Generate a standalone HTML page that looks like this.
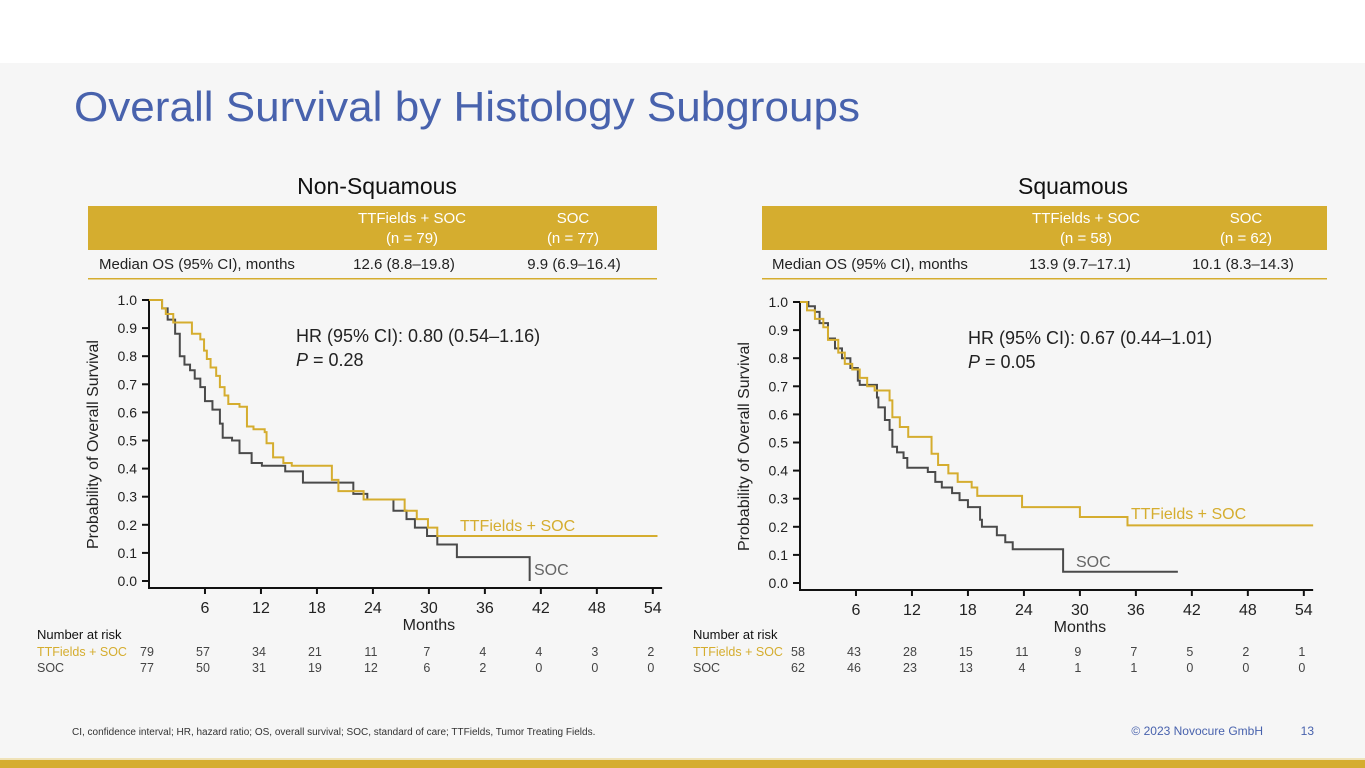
<!DOCTYPE html>
<html><head><meta charset="utf-8"><style>
html,body{margin:0;padding:0;width:1365px;height:768px;overflow:hidden;background:#fff}
svg{display:block;font-family:"Liberation Sans",sans-serif}
</style></head><body>
<svg id="page" width="1365" height="768" viewBox="0 0 1365 768" xmlns="http://www.w3.org/2000/svg">
<rect x="0" y="0" width="1365" height="63" fill="#ffffff"/>
<rect x="0" y="63" width="1365" height="697" fill="#f6f6f6"/>
<rect x="0" y="758" width="1365" height="2" fill="#efe2b8"/>
<rect x="0" y="760" width="1365" height="8" fill="#d5ad2f"/>
<text x="74" y="121" font-size="42" fill="#4862ad" font-weight="300" textLength="786" lengthAdjust="spacingAndGlyphs">Overall Survival by Histology Subgroups</text>

<text x="377" y="194" font-size="23" text-anchor="middle" fill="#111">Non-Squamous</text>
<text x="1073" y="194" font-size="23" text-anchor="middle" fill="#111">Squamous</text>

<g>
<rect x="88" y="206" width="569" height="44" fill="#d5ad2f"/>
<text x="412" y="223" font-size="15" text-anchor="middle" fill="#fff">TTFields + SOC</text>
<text x="412" y="243" font-size="15" text-anchor="middle" fill="#fff">(n = 79)</text>
<text x="573" y="223" font-size="15" text-anchor="middle" fill="#fff">SOC</text>
<text x="573" y="243" font-size="15" text-anchor="middle" fill="#fff">(n = 77)</text>
<text x="99" y="269" font-size="15" fill="#222">Median OS (95% CI), months</text>
<text x="404" y="269" font-size="15" text-anchor="middle" fill="#222">12.6 (8.8–19.8)</text>
<text x="574" y="269" font-size="15" text-anchor="middle" fill="#222">9.9 (6.9–16.4)</text>
<rect x="88" y="278" width="569" height="1.5" fill="#d5ad2f"/>
</g>
<g>
<rect x="762" y="206" width="565" height="44" fill="#d5ad2f"/>
<text x="1086" y="223" font-size="15" text-anchor="middle" fill="#fff">TTFields + SOC</text>
<text x="1086" y="243" font-size="15" text-anchor="middle" fill="#fff">(n = 58)</text>
<text x="1246" y="223" font-size="15" text-anchor="middle" fill="#fff">SOC</text>
<text x="1246" y="243" font-size="15" text-anchor="middle" fill="#fff">(n = 62)</text>
<text x="772" y="269" font-size="15" text-anchor="start" fill="#222">Median OS (95% CI), months</text>
<text x="1080" y="269" font-size="15" text-anchor="middle" fill="#222">13.9 (9.7–17.1)</text>
<text x="1243" y="269" font-size="15" text-anchor="middle" fill="#222">10.1 (8.3–14.3)</text>
<rect x="762" y="278" width="565" height="1.5" fill="#d5ad2f"/>
</g>

<g id="chartL"></g>
<g id="chartR"></g>

<text x="72" y="735" font-size="10" fill="#333">CI, confidence interval; HR, hazard ratio; OS, overall survival; SOC, standard of care; TTFields, Tumor Treating Fields.</text>
<text x="1263" y="735" font-size="12" text-anchor="end" fill="#4862ad">© 2023 Novocure GmbH</text>
<text x="1314" y="735" font-size="12" text-anchor="end" fill="#4862ad">13</text>
</svg>
<script>
const yTicks = ["0.0","0.1","0.2","0.3","0.4","0.5","0.6","0.7","0.8","0.9","1.0"];
const xTicks = [6,12,18,24,30,36,42,48,54];
const riskMonths = [0,6,12,18,24,30,36,42,48,54];
// Non-squamous
const nsTTFtime = [0,1.4,1.8,2.6,4.6,5.5,5.9,6.2,6.6,7.2,7.6,8.1,8.5,9.7,10.5,11.2,12.4,12.6,13.3,14.4,15.3,19.4,19.6,20.3,21.9,23,27.4,28.7,29.9,30.9,54.5];
const nsTTFsurv = [1,0.97,0.95,0.92,0.88,0.86,0.82,0.79,0.76,0.73,0.69,0.66,0.63,0.62,0.55,0.54,0.53,0.49,0.44,0.42,0.41,0.41,0.36,0.32,0.32,0.29,0.25,0.22,0.19,0.16,0.16];
const nsSOCtime = [0,1.4,2,2.8,3.3,3.8,4.4,4.9,5.5,6,6.8,7.6,7.9,8.9,9.7,11,12.1,14.6,16.5,21.9,23.4,26.2,27.6,28.5,29.8,30.9,33,40.8];
const nsSOCsurv = [1,0.97,0.93,0.88,0.80,0.77,0.75,0.72,0.69,0.64,0.61,0.56,0.51,0.50,0.455,0.42,0.41,0.39,0.35,0.31,0.29,0.25,0.22,0.19,0.16,0.13,0.085,0.0];
const nsRiskTTF = [79,57,34,21,11,7,4,4,3,2];
const nsRiskSOC = [77,50,31,19,12,6,2,0,0,0];
// Squamous
const sqTTFtime = [0,0.75,1.6,2.5,3,4.1,4.8,5.6,6.4,7.2,8,9.6,9.9,10.7,11.6,14.1,14.8,15.9,16.9,18.4,19,23.8,30,35.1,55];
const sqTTFsurv = [1,0.97,0.94,0.91,0.865,0.82,0.78,0.76,0.73,0.70,0.685,0.65,0.59,0.555,0.52,0.46,0.42,0.39,0.36,0.34,0.31,0.27,0.235,0.205,0.205];
const sqSOCtime = [0,0.9,1.6,2.1,3,3.75,4.5,5.4,6.2,6.4,8.25,8.4,9.1,9.6,9.9,10.4,11.1,11.5,13.7,14.5,15.2,16.3,17.1,18,19.3,19.5,21.1,22,22.8,28.2,40.5];
const sqSOCsurv = [1,0.985,0.965,0.925,0.87,0.835,0.80,0.765,0.72,0.705,0.66,0.625,0.58,0.545,0.485,0.465,0.445,0.41,0.395,0.36,0.34,0.32,0.295,0.27,0.225,0.20,0.17,0.145,0.12,0.04,0.04];
const sqRiskTTF = [58,43,28,15,11,9,7,5,2,1];
const sqRiskSOC = [62,46,23,13,4,1,1,0,0,0];

const NS = "http://www.w3.org/2000/svg";
const GOLD = "#d5ad2f", GREY = "#4a4a4a";
function mk(tag, attrs, parent, txt){
  const e = document.createElementNS(NS, tag);
  for (const k in attrs) e.setAttribute(k, attrs[k]);
  if (txt !== undefined) e.textContent = txt;
  parent.appendChild(e); return e;
}
function stepPath(t, s, X, Y){
  let d = "M" + X(t[0]) + " " + Y(s[0]);
  for (let i = 1; i < t.length; i++){
    d += " H" + X(t[i]) + " V" + Y(s[i]);
  }
  return d;
}
function drawChart(g, o){
  const X = m => o.x0 + m * 9.33;
  const Y = v => o.y0 - v * 281;
  const axisB = o.y0 + 7;
  const ya = mk("line",{x1:o.x0,y1:Y(1)-1,x2:o.x0,y2:axisB,stroke:"#111","stroke-width":2},g);
  
  
  const xa = mk("line",{x1:o.x0-1,y1:axisB,x2:X(55),y2:axisB,stroke:"#111","stroke-width":2},g);
  
  
  yTicks.forEach((lab,i)=>{
    const v = i/10;
    const tk = mk("line",{x1:o.x0-7,y1:Y(v),x2:o.x0,y2:Y(v),stroke:"#111","stroke-width":2},g);
    
    
    const tl = mk("text",{x:o.x0-12,y:Y(v)+5,"font-size":14,"text-anchor":"end",fill:"#222"},g,lab);
    
    
  });
  xTicks.forEach(m=>{
    const tk = mk("line",{x1:X(m),y1:axisB,x2:X(m),y2:axisB+6,stroke:"#111","stroke-width":2},g);
    
    
    const tl = mk("text",{x:X(m),y:axisB+25,"font-size":16,"text-anchor":"middle",fill:"#222"},g,String(m));
    
    
  });
  const xt = mk("text",{x:X(30),y:axisB+42,"font-size":16,"text-anchor":"middle",fill:"#222"},g,"Months");
  
  
  const yt = mk("text",{x:0,y:0,"font-size":16,"text-anchor":"middle",fill:"#222",transform:"translate("+(o.x0-51)+","+(Y(0.5)+4)+") rotate(-90)"},g,"Probability of Overall Survival");
  
  
  const pS = mk("path",{d:stepPath(o.socT,o.socS,X,Y),fill:"none",stroke:GREY,"stroke-width":2},g);
  
  
  const pT = mk("path",{d:stepPath(o.ttfT,o.ttfS,X,Y),fill:"none",stroke:GOLD,"stroke-width":2},g);
  
  
  const hr = mk("text",{x:o.hrX,y:Y(0.85),"font-size":18,fill:"#222"},g,o.hr);
  
  
  const pv = mk("text",{x:o.hrX,y:Y(0.85)+24,"font-size":18,fill:"#222"},g);
  
  
  mk("tspan",{"font-style":"italic"},pv,"P");
  mk("tspan",{},pv," = "+o.p);
  const l1 = mk("text",{x:o.ttfLab[0],y:o.ttfLab[1],"font-size":16,fill:GOLD},g,"TTFields + SOC");
  
  
  const l2 = mk("text",{x:o.socLab[0],y:o.socLab[1],"font-size":16,fill:"#666"},g,"SOC");
  
  
  const rt = mk("text",{x:o.riskX,y:639,"font-size":13,fill:"#111"},g,"Number at risk");
  
  
  const r1 = mk("text",{x:o.riskX,y:656,"font-size":12.5,fill:GOLD},g,"TTFields + SOC");
  
  
  const r2 = mk("text",{x:o.riskX,y:672,"font-size":12.5,fill:"#444"},g,"SOC");
  
  
  riskMonths.forEach((m,i)=>{
    const a = mk("text",{x:X(m)-2,y:656,"font-size":12.5,"text-anchor":"middle",fill:"#444"},g,String(o.riskT[i]));
    
    
    const b = mk("text",{x:X(m)-2,y:672,"font-size":12.5,"text-anchor":"middle",fill:"#444"},g,String(o.riskS[i]));
    
    
  });
}
drawChart(document.getElementById("chartL"),{x0:149,y0:581,ttfT:nsTTFtime,ttfS:nsTTFsurv,socT:nsSOCtime,socS:nsSOCsurv,
  hr:"HR (95% CI): 0.80 (0.54–1.16)",p:"0.28",hrX:296,ttfLab:[460,531],socLab:[534,575],riskX:37,riskT:nsRiskTTF,riskS:nsRiskSOC});
drawChart(document.getElementById("chartR"),{x0:800,y0:583,ttfT:sqTTFtime,ttfS:sqTTFsurv,socT:sqSOCtime,socS:sqSOCsurv,
  hr:"HR (95% CI): 0.67 (0.44–1.01)",p:"0.05",hrX:968,ttfLab:[1131,519],socLab:[1076,567],riskX:693,riskT:sqRiskTTF,riskS:sqRiskSOC});
</script>
</body></html>
